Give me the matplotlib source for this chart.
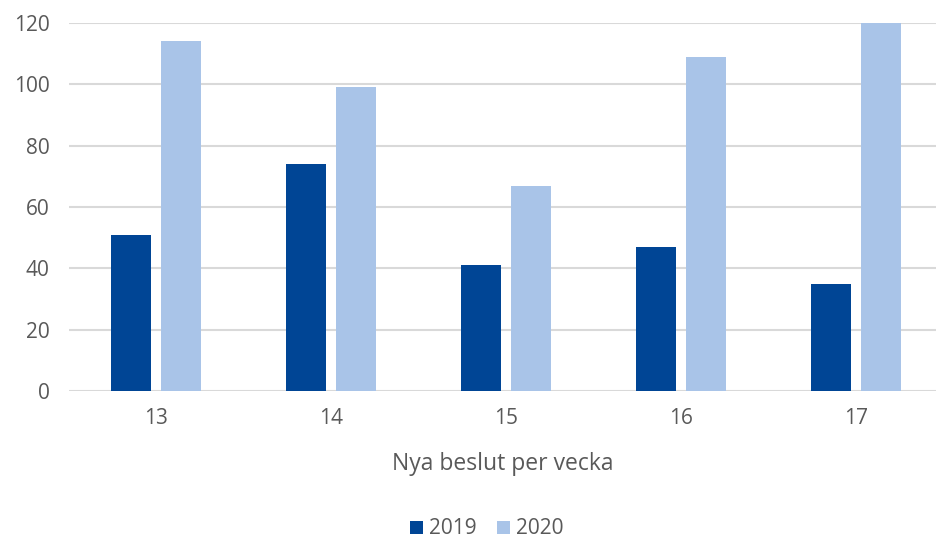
import matplotlib.pyplot as plt
import numpy as np

plt.rcParams['font.family'] = ['Open Sans', 'DejaVu Sans']

# Data
weeks = ["13", "14", "15", "16", "17"]
values_2019 = [51, 74, 41, 47, 35]
values_2020 = [114, 99, 67, 109, 120]

col_2019 = "#004595"
col_2020 = "#A9C4E8"
text_col = "#595959"
grid_col = "#D9D9D9"
fs = 15

fig = plt.figure(figsize=(9.37, 5.41), dpi=100)
ax = fig.add_axes([69/937, 150/541, 1 - 69/937, 368/541])

x = np.arange(len(weeks))
w = 0.229
off = 0.143
ax.bar(x - off, values_2019, width=w, color=col_2019, label="2019", zorder=3)
ax.bar(x + off, values_2020, width=w, color=col_2020, label="2020", zorder=3)

ax.set_ylim(0, 120)
ax.set_xlim(-0.5, 4.463)
ax.set_yticks(range(0, 121, 20))
ax.set_xticks(x)
ax.set_xticklabels(weeks)
ax.yaxis.grid(True, color=grid_col, linewidth=1.5, zorder=0)
ax.set_axisbelow(True)
for s in ax.spines.values():
    s.set_visible(False)
ax.tick_params(axis='both', length=0, colors=text_col, labelsize=fs)
ax.tick_params(axis='y', pad=14)
ax.tick_params(axis='x', pad=12)

ax.set_xlabel("Nya beslut per vecka", color=text_col, fontsize=16.5, labelpad=17)

ax.legend(loc="center", ncol=2, frameon=False, fontsize=fs, labelcolor=text_col,
          handlelength=0.6, handleheight=0.6, handletextpad=0.3, columnspacing=1.0)
leg = ax.get_legend()
leg.set_bbox_to_anchor((487/937, 12/541), transform=fig.transFigure)

fig.savefig("out.png", dpi=100)
